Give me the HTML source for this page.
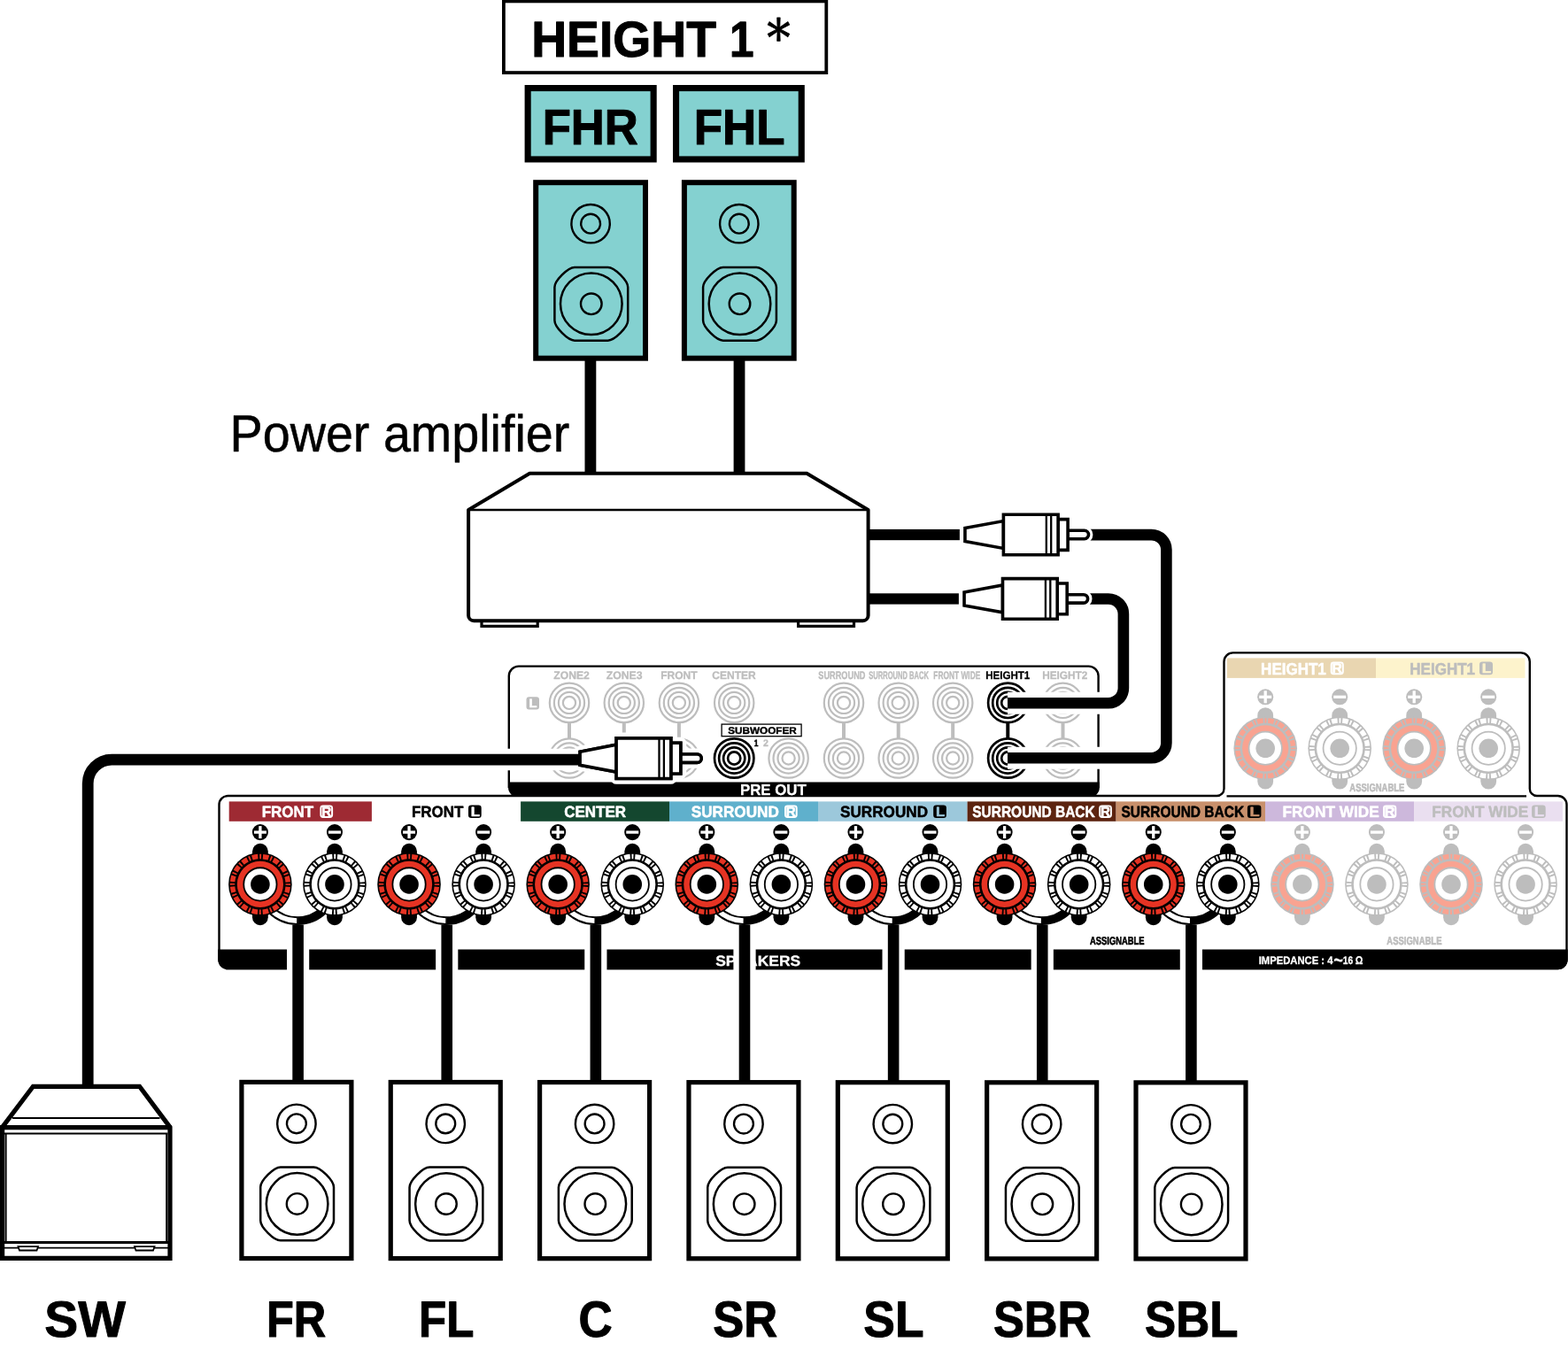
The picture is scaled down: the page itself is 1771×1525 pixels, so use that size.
<!DOCTYPE html>
<html lang="en"><head><meta charset="utf-8"><title>Speaker connection: HEIGHT 1 via power amplifier</title>
<style>
html,body{margin:0;padding:0;background:#fff;}
body{width:1771px;height:1525px;overflow:hidden;font-family:"Liberation Sans",sans-serif;}
svg{display:block;will-change:transform;}
</style></head><body>
<svg width="1771" height="1525" viewBox="0 0 1771 1525" text-rendering="geometricPrecision">
<rect x="0" y="0" width="1771" height="1525" fill="#fff"/>
<rect x="568.9" y="1.4" width="364.4" height="80.7" fill="#fff" stroke="#000" stroke-width="3.8"/>
<text transform="translate(600.17 64.30) scale(0.9723 1)" font-family="'Liberation Sans', sans-serif" font-weight="bold" font-size="56.87" fill="#000" stroke="#000" stroke-width="1.014" stroke-linejoin="round">HEIGHT</text>
<text transform="translate(823.91 64.30) scale(0.8697 1)" font-family="'Liberation Sans', sans-serif" font-weight="bold" font-size="56.87" fill="#000" stroke="#000" stroke-width="1.070" stroke-linejoin="round">1</text>
<text transform="translate(866.18 63.28) scale(0.5269 0.5802)" font-family="'DejaVu Serif', serif" font-weight="normal" font-size="100" fill="#000" stroke="#000" stroke-width="1.445" stroke-linejoin="round">*</text>
<rect x="596.15" y="99.55" width="142.00" height="80.40" fill="#84d1d0" stroke="#000" stroke-width="7.1"/>
<text transform="translate(612.65 162.50) scale(0.9324 1)" font-family="'Liberation Sans', sans-serif" font-weight="bold" font-size="56.44" fill="#000" stroke="#000" stroke-width="1.035" stroke-linejoin="round">FHR</text>
<rect x="763.55" y="99.55" width="141.70" height="80.40" fill="#84d1d0" stroke="#000" stroke-width="7.1"/>
<text transform="translate(783.73 162.50) scale(0.9373 1)" font-family="'Liberation Sans', sans-serif" font-weight="bold" font-size="56.44" fill="#000" stroke="#000" stroke-width="1.032" stroke-linejoin="round">FHL</text>
<rect x="660.5" y="405" width="12.8" height="131" fill="#000"/>
<rect x="828.6" y="405" width="12.8" height="131" fill="#000"/>
<rect x="605.20" y="206.20" width="123.80" height="198.50" fill="#84d1d0" stroke="#000" stroke-width="6.0"/>
<circle cx="667.10" cy="252.70" r="21.7" fill="none" stroke="#000" stroke-width="2.4"/>
<circle cx="667.10" cy="252.70" r="10.9" fill="none" stroke="#000" stroke-width="2.4"/>
<path d="M649.00,301.90 L686.60,301.90 C694.10,301.90 709.20,317.00 709.20,324.50 L709.20,362.10 C709.20,369.60 694.10,384.70 686.60,384.70 L649.00,384.70 C641.50,384.70 626.40,369.60 626.40,362.10 L626.40,324.50 C626.40,317.00 641.50,301.90 649.00,301.90 Z" fill="none" stroke="#000" stroke-width="2.5"/>
<circle cx="667.80" cy="343.30" r="34.8" fill="none" stroke="#000" stroke-width="2.5"/>
<circle cx="667.80" cy="343.30" r="11.8" fill="none" stroke="#000" stroke-width="2.4"/>
<rect x="772.90" y="206.20" width="123.80" height="198.50" fill="#84d1d0" stroke="#000" stroke-width="6.0"/>
<circle cx="834.80" cy="252.70" r="21.7" fill="none" stroke="#000" stroke-width="2.4"/>
<circle cx="834.80" cy="252.70" r="10.9" fill="none" stroke="#000" stroke-width="2.4"/>
<path d="M816.70,301.90 L854.30,301.90 C861.80,301.90 876.90,317.00 876.90,324.50 L876.90,362.10 C876.90,369.60 861.80,384.70 854.30,384.70 L816.70,384.70 C809.20,384.70 794.10,369.60 794.10,362.10 L794.10,324.50 C794.10,317.00 809.20,301.90 816.70,301.90 Z" fill="none" stroke="#000" stroke-width="2.5"/>
<circle cx="835.50" cy="343.30" r="34.8" fill="none" stroke="#000" stroke-width="2.5"/>
<circle cx="835.50" cy="343.30" r="11.8" fill="none" stroke="#000" stroke-width="2.4"/>
<text transform="translate(259.55 509.65) scale(0.9480 1)" font-family="'Liberation Sans', sans-serif" font-weight="normal" font-size="58.76" fill="#000" stroke="#000" stroke-width="0.513" stroke-linejoin="round">Power amplifier</text>
<path d="M544,701.2 h63.2 v6.2 h-63.2 Z M901.6,701.2 h62.9 v6.2 h-62.9 Z" fill="#fff" stroke="#000" stroke-width="3.2"/>
<path d="M529.1,576 L598.3,534.75 H911.2 L980.6,576 V695.2 a6 6 0 0 1 -6,6 H535.1 a6 6 0 0 1 -6,-6 Z" fill="#fff" stroke="#000" stroke-width="4" stroke-linejoin="round"/>
<path d="M529.1,576 H980.6" fill="none" stroke="#000" stroke-width="2.4"/>
<path d="M574.8,890 V763.6 a11 11 0 0 1 11,-11 H1229.6 a11 11 0 0 1 11,11 V890" fill="#fff" stroke="#000" stroke-width="2.4"/>
<path d="M574.05,883.4 H1241.85 V889.5 a10.8 10.8 0 0 1 -10.8,10.8 H584.85 a10.8 10.8 0 0 1 -10.8,-10.8 Z" fill="#000"/>
<rect x="641.00" y="813.9" width="4" height="22.600000000000023" fill="#bdbdbd"/>
<circle cx="643" cy="793.9" r="22.2" fill="#fff" stroke="#bdbdbd" stroke-width="2.2"/>
<circle cx="643" cy="793.9" r="17.1" fill="#fff" stroke="#bdbdbd" stroke-width="2.2"/>
<circle cx="643" cy="793.9" r="12.1" fill="#fff" stroke="#bdbdbd" stroke-width="2.2"/>
<circle cx="643" cy="793.9" r="7.1" fill="#fff" stroke="#bdbdbd" stroke-width="2.2"/>
<circle cx="643" cy="856.5" r="22.2" fill="#fff" stroke="#bdbdbd" stroke-width="2.2"/>
<circle cx="643" cy="856.5" r="17.1" fill="#fff" stroke="#bdbdbd" stroke-width="2.2"/>
<circle cx="643" cy="856.5" r="12.1" fill="#fff" stroke="#bdbdbd" stroke-width="2.2"/>
<circle cx="643" cy="856.5" r="7.1" fill="#fff" stroke="#bdbdbd" stroke-width="2.2"/>
<rect x="702.80" y="813.9" width="4" height="22.600000000000023" fill="#bdbdbd"/>
<circle cx="704.8" cy="793.9" r="22.2" fill="#fff" stroke="#bdbdbd" stroke-width="2.2"/>
<circle cx="704.8" cy="793.9" r="17.1" fill="#fff" stroke="#bdbdbd" stroke-width="2.2"/>
<circle cx="704.8" cy="793.9" r="12.1" fill="#fff" stroke="#bdbdbd" stroke-width="2.2"/>
<circle cx="704.8" cy="793.9" r="7.1" fill="#fff" stroke="#bdbdbd" stroke-width="2.2"/>
<circle cx="704.8" cy="856.5" r="22.2" fill="#fff" stroke="#bdbdbd" stroke-width="2.2"/>
<circle cx="704.8" cy="856.5" r="17.1" fill="#fff" stroke="#bdbdbd" stroke-width="2.2"/>
<circle cx="704.8" cy="856.5" r="12.1" fill="#fff" stroke="#bdbdbd" stroke-width="2.2"/>
<circle cx="704.8" cy="856.5" r="7.1" fill="#fff" stroke="#bdbdbd" stroke-width="2.2"/>
<rect x="764.90" y="813.9" width="4" height="22.600000000000023" fill="#bdbdbd"/>
<circle cx="766.9" cy="793.9" r="22.2" fill="#fff" stroke="#bdbdbd" stroke-width="2.2"/>
<circle cx="766.9" cy="793.9" r="17.1" fill="#fff" stroke="#bdbdbd" stroke-width="2.2"/>
<circle cx="766.9" cy="793.9" r="12.1" fill="#fff" stroke="#bdbdbd" stroke-width="2.2"/>
<circle cx="766.9" cy="793.9" r="7.1" fill="#fff" stroke="#bdbdbd" stroke-width="2.2"/>
<circle cx="766.9" cy="856.5" r="22.2" fill="#fff" stroke="#bdbdbd" stroke-width="2.2"/>
<circle cx="766.9" cy="856.5" r="17.1" fill="#fff" stroke="#bdbdbd" stroke-width="2.2"/>
<circle cx="766.9" cy="856.5" r="12.1" fill="#fff" stroke="#bdbdbd" stroke-width="2.2"/>
<circle cx="766.9" cy="856.5" r="7.1" fill="#fff" stroke="#bdbdbd" stroke-width="2.2"/>
<circle cx="829.2" cy="793.9" r="22.2" fill="#fff" stroke="#bdbdbd" stroke-width="2.2"/>
<circle cx="829.2" cy="793.9" r="17.1" fill="#fff" stroke="#bdbdbd" stroke-width="2.2"/>
<circle cx="829.2" cy="793.9" r="12.1" fill="#fff" stroke="#bdbdbd" stroke-width="2.2"/>
<circle cx="829.2" cy="793.9" r="7.1" fill="#fff" stroke="#bdbdbd" stroke-width="2.2"/>
<circle cx="829.2" cy="856.5" r="22.2" fill="#fff" stroke="#000" stroke-width="2.7"/>
<circle cx="829.2" cy="856.5" r="17.1" fill="#fff" stroke="#000" stroke-width="2.7"/>
<circle cx="829.2" cy="856.5" r="12.1" fill="#fff" stroke="#000" stroke-width="2.7"/>
<circle cx="829.2" cy="856.5" r="7.1" fill="#fff" stroke="#000" stroke-width="2.7"/>
<circle cx="890.6" cy="856.5" r="22.2" fill="#fff" stroke="#bdbdbd" stroke-width="2.2"/>
<circle cx="890.6" cy="856.5" r="17.1" fill="#fff" stroke="#bdbdbd" stroke-width="2.2"/>
<circle cx="890.6" cy="856.5" r="12.1" fill="#fff" stroke="#bdbdbd" stroke-width="2.2"/>
<circle cx="890.6" cy="856.5" r="7.1" fill="#fff" stroke="#bdbdbd" stroke-width="2.2"/>
<rect x="951.00" y="813.9" width="4" height="22.600000000000023" fill="#bdbdbd"/>
<circle cx="953" cy="793.9" r="22.2" fill="#fff" stroke="#bdbdbd" stroke-width="2.2"/>
<circle cx="953" cy="793.9" r="17.1" fill="#fff" stroke="#bdbdbd" stroke-width="2.2"/>
<circle cx="953" cy="793.9" r="12.1" fill="#fff" stroke="#bdbdbd" stroke-width="2.2"/>
<circle cx="953" cy="793.9" r="7.1" fill="#fff" stroke="#bdbdbd" stroke-width="2.2"/>
<circle cx="953" cy="856.5" r="22.2" fill="#fff" stroke="#bdbdbd" stroke-width="2.2"/>
<circle cx="953" cy="856.5" r="17.1" fill="#fff" stroke="#bdbdbd" stroke-width="2.2"/>
<circle cx="953" cy="856.5" r="12.1" fill="#fff" stroke="#bdbdbd" stroke-width="2.2"/>
<circle cx="953" cy="856.5" r="7.1" fill="#fff" stroke="#bdbdbd" stroke-width="2.2"/>
<rect x="1012.70" y="813.9" width="4" height="22.600000000000023" fill="#bdbdbd"/>
<circle cx="1014.7" cy="793.9" r="22.2" fill="#fff" stroke="#bdbdbd" stroke-width="2.2"/>
<circle cx="1014.7" cy="793.9" r="17.1" fill="#fff" stroke="#bdbdbd" stroke-width="2.2"/>
<circle cx="1014.7" cy="793.9" r="12.1" fill="#fff" stroke="#bdbdbd" stroke-width="2.2"/>
<circle cx="1014.7" cy="793.9" r="7.1" fill="#fff" stroke="#bdbdbd" stroke-width="2.2"/>
<circle cx="1014.7" cy="856.5" r="22.2" fill="#fff" stroke="#bdbdbd" stroke-width="2.2"/>
<circle cx="1014.7" cy="856.5" r="17.1" fill="#fff" stroke="#bdbdbd" stroke-width="2.2"/>
<circle cx="1014.7" cy="856.5" r="12.1" fill="#fff" stroke="#bdbdbd" stroke-width="2.2"/>
<circle cx="1014.7" cy="856.5" r="7.1" fill="#fff" stroke="#bdbdbd" stroke-width="2.2"/>
<rect x="1074.20" y="813.9" width="4" height="22.600000000000023" fill="#bdbdbd"/>
<circle cx="1076.2" cy="793.9" r="22.2" fill="#fff" stroke="#bdbdbd" stroke-width="2.2"/>
<circle cx="1076.2" cy="793.9" r="17.1" fill="#fff" stroke="#bdbdbd" stroke-width="2.2"/>
<circle cx="1076.2" cy="793.9" r="12.1" fill="#fff" stroke="#bdbdbd" stroke-width="2.2"/>
<circle cx="1076.2" cy="793.9" r="7.1" fill="#fff" stroke="#bdbdbd" stroke-width="2.2"/>
<circle cx="1076.2" cy="856.5" r="22.2" fill="#fff" stroke="#bdbdbd" stroke-width="2.2"/>
<circle cx="1076.2" cy="856.5" r="17.1" fill="#fff" stroke="#bdbdbd" stroke-width="2.2"/>
<circle cx="1076.2" cy="856.5" r="12.1" fill="#fff" stroke="#bdbdbd" stroke-width="2.2"/>
<circle cx="1076.2" cy="856.5" r="7.1" fill="#fff" stroke="#bdbdbd" stroke-width="2.2"/>
<rect x="1136.30" y="813.9" width="4" height="22.600000000000023" fill="#000"/>
<circle cx="1138.3" cy="793.9" r="22.2" fill="#fff" stroke="#000" stroke-width="2.7"/>
<circle cx="1138.3" cy="793.9" r="17.1" fill="#fff" stroke="#000" stroke-width="2.7"/>
<circle cx="1138.3" cy="793.9" r="12.1" fill="#fff" stroke="#000" stroke-width="2.7"/>
<circle cx="1138.3" cy="793.9" r="7.1" fill="#fff" stroke="#000" stroke-width="2.7"/>
<circle cx="1138.3" cy="856.5" r="22.2" fill="#fff" stroke="#000" stroke-width="2.7"/>
<circle cx="1138.3" cy="856.5" r="17.1" fill="#fff" stroke="#000" stroke-width="2.7"/>
<circle cx="1138.3" cy="856.5" r="12.1" fill="#fff" stroke="#000" stroke-width="2.7"/>
<circle cx="1138.3" cy="856.5" r="7.1" fill="#fff" stroke="#000" stroke-width="2.7"/>
<rect x="1198.50" y="813.9" width="4" height="22.600000000000023" fill="#bdbdbd"/>
<circle cx="1200.5" cy="793.9" r="22.2" fill="#fff" stroke="#bdbdbd" stroke-width="2.2"/>
<circle cx="1200.5" cy="793.9" r="17.1" fill="#fff" stroke="#bdbdbd" stroke-width="2.2"/>
<circle cx="1200.5" cy="793.9" r="12.1" fill="#fff" stroke="#bdbdbd" stroke-width="2.2"/>
<circle cx="1200.5" cy="793.9" r="7.1" fill="#fff" stroke="#bdbdbd" stroke-width="2.2"/>
<circle cx="1200.5" cy="856.5" r="22.2" fill="#fff" stroke="#bdbdbd" stroke-width="2.2"/>
<circle cx="1200.5" cy="856.5" r="17.1" fill="#fff" stroke="#bdbdbd" stroke-width="2.2"/>
<circle cx="1200.5" cy="856.5" r="12.1" fill="#fff" stroke="#bdbdbd" stroke-width="2.2"/>
<circle cx="1200.5" cy="856.5" r="7.1" fill="#fff" stroke="#bdbdbd" stroke-width="2.2"/>
<text transform="translate(625.28 766.95) scale(0.9842 1)" font-family="'Liberation Sans', sans-serif" font-weight="bold" font-size="12.36" fill="#bdbdbd" stroke="#bdbdbd" stroke-width="0.302" stroke-linejoin="round">ZONE2</text>
<text transform="translate(684.68 766.95) scale(0.9926 1)" font-family="'Liberation Sans', sans-serif" font-weight="bold" font-size="12.36" fill="#bdbdbd" stroke="#bdbdbd" stroke-width="0.301" stroke-linejoin="round">ZONE3</text>
<text transform="translate(746.14 766.95) scale(0.9759 1)" font-family="'Liberation Sans', sans-serif" font-weight="bold" font-size="12.36" fill="#bdbdbd" stroke="#bdbdbd" stroke-width="0.304" stroke-linejoin="round">FRONT</text>
<text transform="translate(804.27 766.95) scale(0.9726 1)" font-family="'Liberation Sans', sans-serif" font-weight="bold" font-size="12.36" fill="#bdbdbd" stroke="#bdbdbd" stroke-width="0.304" stroke-linejoin="round">CENTER</text>
<text transform="translate(924.27 766.95) scale(0.7443 1)" font-family="'Liberation Sans', sans-serif" font-weight="bold" font-size="12.36" fill="#bdbdbd" stroke="#bdbdbd" stroke-width="0.344" stroke-linejoin="round">SURROUND</text>
<text transform="translate(981.22 766.95) scale(0.6131 1)" font-family="'Liberation Sans', sans-serif" font-weight="bold" font-size="12.36" fill="#bdbdbd" stroke="#bdbdbd" stroke-width="0.372" stroke-linejoin="round">SURROUND BACK</text>
<text transform="translate(1054.29 766.95) scale(0.6769 1)" font-family="'Liberation Sans', sans-serif" font-weight="bold" font-size="12.36" fill="#bdbdbd" stroke="#bdbdbd" stroke-width="0.358" stroke-linejoin="round">FRONT WIDE</text>
<text transform="translate(1113.27 766.95) scale(0.9334 1)" font-family="'Liberation Sans', sans-serif" font-weight="bold" font-size="12.36" fill="#000" stroke="#000" stroke-width="0.310" stroke-linejoin="round">HEIGHT1</text>
<text transform="translate(1177.15 766.95) scale(0.9553 1)" font-family="'Liberation Sans', sans-serif" font-weight="bold" font-size="12.36" fill="#bdbdbd" stroke="#bdbdbd" stroke-width="0.307" stroke-linejoin="round">HEIGHT2</text>
<rect x="594.5" y="787.3" width="14.5" height="14.2" rx="3" fill="#bdbdbd"/>
<text transform="translate(597.61 798.90) scale(1.0936 1)" font-family="'Liberation Sans', sans-serif" font-weight="bold" font-size="13.38" fill="#fff" stroke="#fff" stroke-width="0.573" stroke-linejoin="round">L</text>
<rect x="815.1" y="818.1" width="90" height="13.6" fill="#fff" stroke="#000" stroke-width="1.3"/>
<text transform="translate(822.25 829.10) scale(1.0618 1)" font-family="'Liberation Sans', sans-serif" font-weight="bold" font-size="11.05" fill="#000" stroke="#000" stroke-width="0.388" stroke-linejoin="round">SUBWOOFER</text>
<text transform="translate(851.73 843.05) scale(0.7899 1)" font-family="'Liberation Sans', sans-serif" font-weight="bold" font-size="10.62" fill="#000" stroke="#000" stroke-width="0.559" stroke-linejoin="round">1</text>
<text transform="translate(861.98 843.15) scale(0.9740 1)" font-family="'Liberation Sans', sans-serif" font-weight="bold" font-size="10.91" fill="#bdbdbd" stroke="#bdbdbd" stroke-width="0.304" stroke-linejoin="round">2</text>
<path d="M257.5,899 H1374.5 a8 8 0 0 0 8,-8 V747.4 a10 10 0 0 1 10,-10 H1717.8 a10 10 0 0 1 10,10 V891 a8 8 0 0 0 8,8 H1759.5 a10 10 0 0 1 10,10 V1084 a10 10 0 0 1 -10,10 H257.5 a10 10 0 0 1 -10,-10 V909 a10 10 0 0 1 10,-10 Z" fill="#fff" stroke="#000" stroke-width="2.4"/>
<path d="M1385.5,899.3 H1724" stroke="#000" stroke-width="2.3" fill="none"/>
<text transform="translate(835.91 898.15) scale(0.9723 1)" font-family="'Liberation Sans', sans-serif" font-weight="bold" font-size="17.31" fill="#fff" stroke="#fff" stroke-width="0.304" stroke-linejoin="round">PRE OUT</text>
<path d="M246.3,1072.6 H1770.7 V1084 a11.2 11.2 0 0 1 -11.2,11.2 H257.5 a11.2 11.2 0 0 1 -11.2,-11.2 Z" fill="#000"/>
<text transform="translate(808.23 1090.85) scale(1.0606 1)" font-family="'Liberation Sans', sans-serif" font-weight="bold" font-size="16.44" fill="#fff" stroke="#fff" stroke-width="0.291" stroke-linejoin="round">SPEAKERS</text>
<text transform="translate(1421.69 1089.15) scale(0.9203 1)" font-family="'Liberation Sans', sans-serif" font-weight="bold" font-size="12.22" fill="#fff" stroke="#fff" stroke-width="0.312" stroke-linejoin="round">IMPEDANCE : 4</text>
<text transform="translate(1506.16 1093.41) scale(0.1852 0.2540)" font-family="'Liberation Sans', sans-serif" font-weight="bold" font-size="100" fill="#fff">~</text>
<text transform="translate(1516.81 1089.15) scale(0.8326 1)" font-family="'Liberation Sans', sans-serif" font-weight="bold" font-size="12.22" fill="#fff" stroke="#fff" stroke-width="0.327" stroke-linejoin="round">16</text>
<text transform="translate(1530.72 1089.15) scale(0.8630 1)" font-family="'Liberation Sans', sans-serif" font-weight="bold" font-size="12.51" fill="#fff" stroke="#fff" stroke-width="0.322" stroke-linejoin="round">Ω</text>
<text transform="translate(1231.02 1066.55) scale(0.7425 1)" font-family="'Liberation Sans', sans-serif" font-weight="bold" font-size="12.65" fill="#000" stroke="#000" stroke-width="0.574" stroke-linejoin="round">ASSIGNABLE</text>
<text transform="translate(1566.31 1066.75) scale(0.7498 1)" font-family="'Liberation Sans', sans-serif" font-weight="bold" font-size="12.65" fill="#bdbdbd" stroke="#bdbdbd" stroke-width="0.572" stroke-linejoin="round">ASSIGNABLE</text>
<text transform="translate(1524.31 893.75) scale(0.7485 1)" font-family="'Liberation Sans', sans-serif" font-weight="bold" font-size="12.65" fill="#bdbdbd" stroke="#bdbdbd" stroke-width="0.572" stroke-linejoin="round">ASSIGNABLE</text>
<rect x="258.7" y="905.4" width="161.20" height="22.4" fill="#9e2a33"/>
<text transform="translate(295.70 922.85) scale(0.9579 1)" font-family="'Liberation Sans', sans-serif" font-weight="bold" font-size="17.75" fill="#fff" stroke="#fff" stroke-width="0.511" stroke-linejoin="round">FRONT</text>
<rect x="362.40" y="910.50" width="12.70" height="12.50" rx="2.4" fill="none" stroke="#fff" stroke-width="2.0"/>
<text transform="translate(363.23 922.05) scale(0.9938 1)" font-family="'Liberation Sans', sans-serif" font-weight="bold" font-size="15.27" fill="#fff" stroke="#fff" stroke-width="0.502" stroke-linejoin="round">R</text>
<text transform="translate(464.90 922.85) scale(0.9579 1)" font-family="'Liberation Sans', sans-serif" font-weight="bold" font-size="17.75" fill="#000" stroke="#000" stroke-width="0.511" stroke-linejoin="round">FRONT</text>
<rect x="529.00" y="909.50" width="14.70" height="14.50" rx="3.2" fill="#000"/>
<text transform="translate(531.72 921.85) scale(1.1310 1)" font-family="'Liberation Sans', sans-serif" font-weight="bold" font-size="14.84" fill="#fff" stroke="#fff" stroke-width="0.469" stroke-linejoin="round">L</text>
<rect x="588.1" y="905.4" width="167.90" height="22.4" fill="#14472f"/>
<text transform="translate(637.17 922.85) scale(0.9573 1)" font-family="'Liberation Sans', sans-serif" font-weight="bold" font-size="17.75" fill="#fff" stroke="#fff" stroke-width="0.511" stroke-linejoin="round">CENTER</text>
<rect x="756" y="905.4" width="168.00" height="22.4" fill="#5fb0cc"/>
<text transform="translate(780.74 922.85) scale(0.9660 1)" font-family="'Liberation Sans', sans-serif" font-weight="bold" font-size="17.75" fill="#fff" stroke="#fff" stroke-width="0.509" stroke-linejoin="round">SURROUND</text>
<rect x="887.00" y="910.50" width="12.70" height="12.50" rx="2.4" fill="none" stroke="#fff" stroke-width="2.0"/>
<text transform="translate(887.83 922.05) scale(0.9938 1)" font-family="'Liberation Sans', sans-serif" font-weight="bold" font-size="15.27" fill="#fff" stroke="#fff" stroke-width="0.502" stroke-linejoin="round">R</text>
<rect x="924" y="905.4" width="168.60" height="22.4" fill="#9cc8db"/>
<text transform="translate(949.04 922.85) scale(0.9660 1)" font-family="'Liberation Sans', sans-serif" font-weight="bold" font-size="17.75" fill="#000" stroke="#000" stroke-width="0.509" stroke-linejoin="round">SURROUND</text>
<rect x="1054.20" y="909.50" width="14.70" height="14.50" rx="3.2" fill="#000"/>
<text transform="translate(1056.92 921.85) scale(1.1310 1)" font-family="'Liberation Sans', sans-serif" font-weight="bold" font-size="14.84" fill="#9cc8db" stroke="#9cc8db" stroke-width="0.469" stroke-linejoin="round">L</text>
<rect x="1092.6" y="905.4" width="168.00" height="22.4" fill="#5c2410"/>
<text transform="translate(1098.29 922.85) scale(0.8714 1)" font-family="'Liberation Sans', sans-serif" font-weight="bold" font-size="17.75" fill="#fff" stroke="#fff" stroke-width="0.534" stroke-linejoin="round">SURROUND BACK</text>
<rect x="1242.20" y="910.50" width="12.70" height="12.50" rx="2.4" fill="none" stroke="#fff" stroke-width="2.0"/>
<text transform="translate(1243.03 922.05) scale(0.9938 1)" font-family="'Liberation Sans', sans-serif" font-weight="bold" font-size="15.27" fill="#fff" stroke="#fff" stroke-width="0.502" stroke-linejoin="round">R</text>
<rect x="1260.6" y="905.4" width="168.40" height="22.4" fill="#c8906c"/>
<text transform="translate(1266.49 922.85) scale(0.8733 1)" font-family="'Liberation Sans', sans-serif" font-weight="bold" font-size="17.75" fill="#000" stroke="#000" stroke-width="0.534" stroke-linejoin="round">SURROUND BACK</text>
<rect x="1408.90" y="909.50" width="15.50" height="14.50" rx="3.2" fill="#000"/>
<text transform="translate(1411.51 921.85) scale(1.2363 1)" font-family="'Liberation Sans', sans-serif" font-weight="bold" font-size="14.84" fill="#c8906c" stroke="#c8906c" stroke-width="0.447" stroke-linejoin="round">L</text>
<rect x="1429" y="905.4" width="168.00" height="22.4" fill="#cdb8dc"/>
<text transform="translate(1448.59 922.85) scale(0.9713 1)" font-family="'Liberation Sans', sans-serif" font-weight="bold" font-size="17.75" fill="#fff" stroke="#fff" stroke-width="0.507" stroke-linejoin="round">FRONT WIDE</text>
<rect x="1563.00" y="910.50" width="13.30" height="12.50" rx="2.4" fill="none" stroke="#fff" stroke-width="2.0"/>
<text transform="translate(1563.76 922.05) scale(1.0559 1)" font-family="'Liberation Sans', sans-serif" font-weight="bold" font-size="15.27" fill="#fff" stroke="#fff" stroke-width="0.486" stroke-linejoin="round">R</text>
<rect x="1597" y="905.4" width="168.00" height="22.4" fill="#eadff0"/>
<text transform="translate(1617.29 922.85) scale(0.9686 1)" font-family="'Liberation Sans', sans-serif" font-weight="bold" font-size="17.75" fill="#bdbdbd" stroke="#bdbdbd" stroke-width="0.508" stroke-linejoin="round">FRONT WIDE</text>
<rect x="1730.10" y="909.50" width="15.60" height="14.50" rx="3.2" fill="#bdbdbd"/>
<text transform="translate(1732.70 921.85) scale(1.2494 1)" font-family="'Liberation Sans', sans-serif" font-weight="bold" font-size="14.84" fill="#eadff0" stroke="#eadff0" stroke-width="0.445" stroke-linejoin="round">L</text>
<rect x="1386" y="743.4" width="168" height="22.5" fill="#e9d6b1"/>
<rect x="1554" y="743.4" width="168.5" height="22.5" fill="#fdf3cc"/>
<text transform="translate(1424.10 761.55) scale(0.9068 1)" font-family="'Liberation Sans', sans-serif" font-weight="bold" font-size="18.76" fill="#fff" stroke="#fff" stroke-width="0.524" stroke-linejoin="round">HEIGHT1</text>
<rect x="1503.70" y="748.60" width="13.10" height="12.60" rx="2.4" fill="none" stroke="#fff" stroke-width="2.0"/>
<text transform="translate(1504.48 760.25) scale(1.0254 1)" font-family="'Liberation Sans', sans-serif" font-weight="bold" font-size="15.42" fill="#fff" stroke="#fff" stroke-width="0.494" stroke-linejoin="round">R</text>
<text transform="translate(1592.30 761.55) scale(0.9081 1)" font-family="'Liberation Sans', sans-serif" font-weight="bold" font-size="18.76" fill="#bdbdbd" stroke="#bdbdbd" stroke-width="0.524" stroke-linejoin="round">HEIGHT1</text>
<rect x="1671.00" y="747.60" width="15.00" height="14.60" rx="3.2" fill="#bdbdbd"/>
<text transform="translate(1673.68 760.05) scale(1.1591 1)" font-family="'Liberation Sans', sans-serif" font-weight="bold" font-size="14.98" fill="#fdf3cc" stroke="#fdf3cc" stroke-width="0.463" stroke-linejoin="round">L</text>
<path d="M377.96999999999997,998.9 A41.77 41.2 0 0 1 336.20000000000005,1040.1" fill="none" stroke="#000" stroke-width="9.6"/>
<path d="M293.9,998.9 A42.30 41.2 0 0 0 336.70000000000005,1040.1" fill="none" stroke="#000" stroke-width="9.6"/>
<path d="M293.9,998.9 A42.30 41.2 0 0 0 335.20000000000005,1040.1" fill="none" stroke="#fff" stroke-width="5.6"/>
<path d="M546.1099999999999,998.9 A41.78 41.2 0 0 1 504.33000000000004,1040.1" fill="none" stroke="#000" stroke-width="9.6"/>
<path d="M462.03999999999996,998.9 A42.29 41.2 0 0 0 504.83000000000004,1040.1" fill="none" stroke="#000" stroke-width="9.6"/>
<path d="M462.03999999999996,998.9 A42.29 41.2 0 0 0 503.33000000000004,1040.1" fill="none" stroke="#fff" stroke-width="5.6"/>
<path d="M714.25,998.9 A41.79 41.2 0 0 1 672.46,1040.1" fill="none" stroke="#000" stroke-width="9.6"/>
<path d="M630.18,998.9 A42.28 41.2 0 0 0 672.96,1040.1" fill="none" stroke="#000" stroke-width="9.6"/>
<path d="M630.18,998.9 A42.28 41.2 0 0 0 671.46,1040.1" fill="none" stroke="#fff" stroke-width="5.6"/>
<path d="M882.39,998.9 A41.80 41.2 0 0 1 840.59,1040.1" fill="none" stroke="#000" stroke-width="9.6"/>
<path d="M798.3199999999999,998.9 A42.27 41.2 0 0 0 841.09,1040.1" fill="none" stroke="#000" stroke-width="9.6"/>
<path d="M798.3199999999999,998.9 A42.27 41.2 0 0 0 839.59,1040.1" fill="none" stroke="#fff" stroke-width="5.6"/>
<path d="M1050.5299999999997,998.9 A41.81 41.2 0 0 1 1008.72,1040.1" fill="none" stroke="#000" stroke-width="9.6"/>
<path d="M966.4599999999999,998.9 A42.26 41.2 0 0 0 1009.22,1040.1" fill="none" stroke="#000" stroke-width="9.6"/>
<path d="M966.4599999999999,998.9 A42.26 41.2 0 0 0 1007.72,1040.1" fill="none" stroke="#fff" stroke-width="5.6"/>
<path d="M1218.67,998.9 A41.82 41.2 0 0 1 1176.85,1040.1" fill="none" stroke="#000" stroke-width="9.6"/>
<path d="M1134.6,998.9 A42.25 41.2 0 0 0 1177.35,1040.1" fill="none" stroke="#000" stroke-width="9.6"/>
<path d="M1134.6,998.9 A42.25 41.2 0 0 0 1175.85,1040.1" fill="none" stroke="#fff" stroke-width="5.6"/>
<path d="M1386.81,998.9 A41.83 41.2 0 0 1 1344.98,1040.1" fill="none" stroke="#000" stroke-width="9.6"/>
<path d="M1302.7399999999998,998.9 A42.24 41.2 0 0 0 1345.48,1040.1" fill="none" stroke="#000" stroke-width="9.6"/>
<path d="M1302.7399999999998,998.9 A42.24 41.2 0 0 0 1343.98,1040.1" fill="none" stroke="#fff" stroke-width="5.6"/>
<circle cx="293.90" cy="940.1" r="9.05" fill="#000"/>
<rect x="286.90" y="938.45" width="14" height="3.3" fill="#fff"/>
<rect x="292.25" y="933.10" width="3.3" height="14" fill="#fff"/>
<rect x="285.00" y="952.80" width="17.8" height="92.4" rx="8.9" fill="#000"/>
<circle cx="293.90" cy="998.9" r="35.8" fill="#000"/>
<circle cx="293.90" cy="998.9" r="31.4" fill="none" stroke="#e63323" stroke-width="5.5" stroke-dasharray="1.900 1.9 6.631 1.9" stroke-dashoffset="0.950"/>
<circle cx="293.90" cy="998.9" r="26.1" fill="#e63323"/>
<circle cx="293.90" cy="998.9" r="18.65" fill="#fff" stroke="#000" stroke-width="1.8"/>
<circle cx="293.90" cy="998.9" r="10.8" fill="#000"/>
<circle cx="377.97" cy="940.1" r="9.05" fill="#000"/>
<rect x="370.97" y="938.45" width="14" height="3.3" fill="#fff"/>
<rect x="369.07" y="952.80" width="17.8" height="92.4" rx="8.9" fill="#000"/>
<circle cx="377.97" cy="998.9" r="35.8" fill="#000"/>
<circle cx="377.97" cy="998.9" r="31.4" fill="none" stroke="#fff" stroke-width="5.5" stroke-dasharray="1.900 1.9 6.631 1.9" stroke-dashoffset="0.950"/>
<circle cx="377.97" cy="998.9" r="26.1" fill="#fff"/>
<circle cx="377.97" cy="998.9" r="18.65" fill="#fff" stroke="#000" stroke-width="1.8"/>
<circle cx="377.97" cy="998.9" r="10.8" fill="#000"/>
<circle cx="462.04" cy="940.1" r="9.05" fill="#000"/>
<rect x="455.04" y="938.45" width="14" height="3.3" fill="#fff"/>
<rect x="460.39" y="933.10" width="3.3" height="14" fill="#fff"/>
<rect x="453.14" y="952.80" width="17.8" height="92.4" rx="8.9" fill="#000"/>
<circle cx="462.04" cy="998.9" r="35.8" fill="#000"/>
<circle cx="462.04" cy="998.9" r="31.4" fill="none" stroke="#e63323" stroke-width="5.5" stroke-dasharray="1.900 1.9 6.631 1.9" stroke-dashoffset="0.950"/>
<circle cx="462.04" cy="998.9" r="26.1" fill="#e63323"/>
<circle cx="462.04" cy="998.9" r="18.65" fill="#fff" stroke="#000" stroke-width="1.8"/>
<circle cx="462.04" cy="998.9" r="10.8" fill="#000"/>
<circle cx="546.11" cy="940.1" r="9.05" fill="#000"/>
<rect x="539.11" y="938.45" width="14" height="3.3" fill="#fff"/>
<rect x="537.21" y="952.80" width="17.8" height="92.4" rx="8.9" fill="#000"/>
<circle cx="546.11" cy="998.9" r="35.8" fill="#000"/>
<circle cx="546.11" cy="998.9" r="31.4" fill="none" stroke="#fff" stroke-width="5.5" stroke-dasharray="1.900 1.9 6.631 1.9" stroke-dashoffset="0.950"/>
<circle cx="546.11" cy="998.9" r="26.1" fill="#fff"/>
<circle cx="546.11" cy="998.9" r="18.65" fill="#fff" stroke="#000" stroke-width="1.8"/>
<circle cx="546.11" cy="998.9" r="10.8" fill="#000"/>
<circle cx="630.18" cy="940.1" r="9.05" fill="#000"/>
<rect x="623.18" y="938.45" width="14" height="3.3" fill="#fff"/>
<rect x="628.53" y="933.10" width="3.3" height="14" fill="#fff"/>
<rect x="621.28" y="952.80" width="17.8" height="92.4" rx="8.9" fill="#000"/>
<circle cx="630.18" cy="998.9" r="35.8" fill="#000"/>
<circle cx="630.18" cy="998.9" r="31.4" fill="none" stroke="#e63323" stroke-width="5.5" stroke-dasharray="1.900 1.9 6.631 1.9" stroke-dashoffset="0.950"/>
<circle cx="630.18" cy="998.9" r="26.1" fill="#e63323"/>
<circle cx="630.18" cy="998.9" r="18.65" fill="#fff" stroke="#000" stroke-width="1.8"/>
<circle cx="630.18" cy="998.9" r="10.8" fill="#000"/>
<circle cx="714.25" cy="940.1" r="9.05" fill="#000"/>
<rect x="707.25" y="938.45" width="14" height="3.3" fill="#fff"/>
<rect x="705.35" y="952.80" width="17.8" height="92.4" rx="8.9" fill="#000"/>
<circle cx="714.25" cy="998.9" r="35.8" fill="#000"/>
<circle cx="714.25" cy="998.9" r="31.4" fill="none" stroke="#fff" stroke-width="5.5" stroke-dasharray="1.900 1.9 6.631 1.9" stroke-dashoffset="0.950"/>
<circle cx="714.25" cy="998.9" r="26.1" fill="#fff"/>
<circle cx="714.25" cy="998.9" r="18.65" fill="#fff" stroke="#000" stroke-width="1.8"/>
<circle cx="714.25" cy="998.9" r="10.8" fill="#000"/>
<circle cx="798.32" cy="940.1" r="9.05" fill="#000"/>
<rect x="791.32" y="938.45" width="14" height="3.3" fill="#fff"/>
<rect x="796.67" y="933.10" width="3.3" height="14" fill="#fff"/>
<rect x="789.42" y="952.80" width="17.8" height="92.4" rx="8.9" fill="#000"/>
<circle cx="798.32" cy="998.9" r="35.8" fill="#000"/>
<circle cx="798.32" cy="998.9" r="31.4" fill="none" stroke="#e63323" stroke-width="5.5" stroke-dasharray="1.900 1.9 6.631 1.9" stroke-dashoffset="0.950"/>
<circle cx="798.32" cy="998.9" r="26.1" fill="#e63323"/>
<circle cx="798.32" cy="998.9" r="18.65" fill="#fff" stroke="#000" stroke-width="1.8"/>
<circle cx="798.32" cy="998.9" r="10.8" fill="#000"/>
<circle cx="882.39" cy="940.1" r="9.05" fill="#000"/>
<rect x="875.39" y="938.45" width="14" height="3.3" fill="#fff"/>
<rect x="873.49" y="952.80" width="17.8" height="92.4" rx="8.9" fill="#000"/>
<circle cx="882.39" cy="998.9" r="35.8" fill="#000"/>
<circle cx="882.39" cy="998.9" r="31.4" fill="none" stroke="#fff" stroke-width="5.5" stroke-dasharray="1.900 1.9 6.631 1.9" stroke-dashoffset="0.950"/>
<circle cx="882.39" cy="998.9" r="26.1" fill="#fff"/>
<circle cx="882.39" cy="998.9" r="18.65" fill="#fff" stroke="#000" stroke-width="1.8"/>
<circle cx="882.39" cy="998.9" r="10.8" fill="#000"/>
<circle cx="966.46" cy="940.1" r="9.05" fill="#000"/>
<rect x="959.46" y="938.45" width="14" height="3.3" fill="#fff"/>
<rect x="964.81" y="933.10" width="3.3" height="14" fill="#fff"/>
<rect x="957.56" y="952.80" width="17.8" height="92.4" rx="8.9" fill="#000"/>
<circle cx="966.46" cy="998.9" r="35.8" fill="#000"/>
<circle cx="966.46" cy="998.9" r="31.4" fill="none" stroke="#e63323" stroke-width="5.5" stroke-dasharray="1.900 1.9 6.631 1.9" stroke-dashoffset="0.950"/>
<circle cx="966.46" cy="998.9" r="26.1" fill="#e63323"/>
<circle cx="966.46" cy="998.9" r="18.65" fill="#fff" stroke="#000" stroke-width="1.8"/>
<circle cx="966.46" cy="998.9" r="10.8" fill="#000"/>
<circle cx="1050.53" cy="940.1" r="9.05" fill="#000"/>
<rect x="1043.53" y="938.45" width="14" height="3.3" fill="#fff"/>
<rect x="1041.63" y="952.80" width="17.8" height="92.4" rx="8.9" fill="#000"/>
<circle cx="1050.53" cy="998.9" r="35.8" fill="#000"/>
<circle cx="1050.53" cy="998.9" r="31.4" fill="none" stroke="#fff" stroke-width="5.5" stroke-dasharray="1.900 1.9 6.631 1.9" stroke-dashoffset="0.950"/>
<circle cx="1050.53" cy="998.9" r="26.1" fill="#fff"/>
<circle cx="1050.53" cy="998.9" r="18.65" fill="#fff" stroke="#000" stroke-width="1.8"/>
<circle cx="1050.53" cy="998.9" r="10.8" fill="#000"/>
<circle cx="1134.60" cy="940.1" r="9.05" fill="#000"/>
<rect x="1127.60" y="938.45" width="14" height="3.3" fill="#fff"/>
<rect x="1132.95" y="933.10" width="3.3" height="14" fill="#fff"/>
<rect x="1125.70" y="952.80" width="17.8" height="92.4" rx="8.9" fill="#000"/>
<circle cx="1134.60" cy="998.9" r="35.8" fill="#000"/>
<circle cx="1134.60" cy="998.9" r="31.4" fill="none" stroke="#e63323" stroke-width="5.5" stroke-dasharray="1.900 1.9 6.631 1.9" stroke-dashoffset="0.950"/>
<circle cx="1134.60" cy="998.9" r="26.1" fill="#e63323"/>
<circle cx="1134.60" cy="998.9" r="18.65" fill="#fff" stroke="#000" stroke-width="1.8"/>
<circle cx="1134.60" cy="998.9" r="10.8" fill="#000"/>
<circle cx="1218.67" cy="940.1" r="9.05" fill="#000"/>
<rect x="1211.67" y="938.45" width="14" height="3.3" fill="#fff"/>
<rect x="1209.77" y="952.80" width="17.8" height="92.4" rx="8.9" fill="#000"/>
<circle cx="1218.67" cy="998.9" r="35.8" fill="#000"/>
<circle cx="1218.67" cy="998.9" r="31.4" fill="none" stroke="#fff" stroke-width="5.5" stroke-dasharray="1.900 1.9 6.631 1.9" stroke-dashoffset="0.950"/>
<circle cx="1218.67" cy="998.9" r="26.1" fill="#fff"/>
<circle cx="1218.67" cy="998.9" r="18.65" fill="#fff" stroke="#000" stroke-width="1.8"/>
<circle cx="1218.67" cy="998.9" r="10.8" fill="#000"/>
<circle cx="1302.74" cy="940.1" r="9.05" fill="#000"/>
<rect x="1295.74" y="938.45" width="14" height="3.3" fill="#fff"/>
<rect x="1301.09" y="933.10" width="3.3" height="14" fill="#fff"/>
<rect x="1293.84" y="952.80" width="17.8" height="92.4" rx="8.9" fill="#000"/>
<circle cx="1302.74" cy="998.9" r="35.8" fill="#000"/>
<circle cx="1302.74" cy="998.9" r="31.4" fill="none" stroke="#e63323" stroke-width="5.5" stroke-dasharray="1.900 1.9 6.631 1.9" stroke-dashoffset="0.950"/>
<circle cx="1302.74" cy="998.9" r="26.1" fill="#e63323"/>
<circle cx="1302.74" cy="998.9" r="18.65" fill="#fff" stroke="#000" stroke-width="1.8"/>
<circle cx="1302.74" cy="998.9" r="10.8" fill="#000"/>
<circle cx="1386.81" cy="940.1" r="9.05" fill="#000"/>
<rect x="1379.81" y="938.45" width="14" height="3.3" fill="#fff"/>
<rect x="1377.91" y="952.80" width="17.8" height="92.4" rx="8.9" fill="#000"/>
<circle cx="1386.81" cy="998.9" r="35.8" fill="#000"/>
<circle cx="1386.81" cy="998.9" r="31.4" fill="none" stroke="#fff" stroke-width="5.5" stroke-dasharray="1.900 1.9 6.631 1.9" stroke-dashoffset="0.950"/>
<circle cx="1386.81" cy="998.9" r="26.1" fill="#fff"/>
<circle cx="1386.81" cy="998.9" r="18.65" fill="#fff" stroke="#000" stroke-width="1.8"/>
<circle cx="1386.81" cy="998.9" r="10.8" fill="#000"/>
<circle cx="1470.88" cy="940.1" r="9.05" fill="#bdbdbd"/>
<rect x="1463.88" y="938.45" width="14" height="3.3" fill="#fff"/>
<rect x="1469.23" y="933.10" width="3.3" height="14" fill="#fff"/>
<rect x="1461.98" y="952.80" width="17.8" height="92.4" rx="8.9" fill="#bdbdbd"/>
<circle cx="1470.88" cy="998.9" r="35.8" fill="#bdbdbd"/>
<circle cx="1470.88" cy="998.9" r="31.4" fill="none" stroke="#f9a391" stroke-width="5.5" stroke-dasharray="1.900 1.9 6.631 1.9" stroke-dashoffset="0.950"/>
<circle cx="1470.88" cy="998.9" r="26.1" fill="#f9a391"/>
<circle cx="1470.88" cy="998.9" r="18.65" fill="#fff" stroke="#bdbdbd" stroke-width="1.8"/>
<circle cx="1470.88" cy="998.9" r="10.8" fill="#bdbdbd"/>
<circle cx="1554.95" cy="940.1" r="9.05" fill="#bdbdbd"/>
<rect x="1547.95" y="938.45" width="14" height="3.3" fill="#fff"/>
<rect x="1546.05" y="952.80" width="17.8" height="92.4" rx="8.9" fill="#bdbdbd"/>
<circle cx="1554.95" cy="998.9" r="35.8" fill="#bdbdbd"/>
<circle cx="1554.95" cy="998.9" r="31.4" fill="none" stroke="#fff" stroke-width="5.5" stroke-dasharray="1.900 1.9 6.631 1.9" stroke-dashoffset="0.950"/>
<circle cx="1554.95" cy="998.9" r="26.1" fill="#fff"/>
<circle cx="1554.95" cy="998.9" r="18.65" fill="#fff" stroke="#bdbdbd" stroke-width="1.8"/>
<circle cx="1554.95" cy="998.9" r="10.8" fill="#bdbdbd"/>
<circle cx="1639.02" cy="940.1" r="9.05" fill="#bdbdbd"/>
<rect x="1632.02" y="938.45" width="14" height="3.3" fill="#fff"/>
<rect x="1637.37" y="933.10" width="3.3" height="14" fill="#fff"/>
<rect x="1630.12" y="952.80" width="17.8" height="92.4" rx="8.9" fill="#bdbdbd"/>
<circle cx="1639.02" cy="998.9" r="35.8" fill="#bdbdbd"/>
<circle cx="1639.02" cy="998.9" r="31.4" fill="none" stroke="#f9a391" stroke-width="5.5" stroke-dasharray="1.900 1.9 6.631 1.9" stroke-dashoffset="0.950"/>
<circle cx="1639.02" cy="998.9" r="26.1" fill="#f9a391"/>
<circle cx="1639.02" cy="998.9" r="18.65" fill="#fff" stroke="#bdbdbd" stroke-width="1.8"/>
<circle cx="1639.02" cy="998.9" r="10.8" fill="#bdbdbd"/>
<circle cx="1723.09" cy="940.1" r="9.05" fill="#bdbdbd"/>
<rect x="1716.09" y="938.45" width="14" height="3.3" fill="#fff"/>
<rect x="1714.19" y="952.80" width="17.8" height="92.4" rx="8.9" fill="#bdbdbd"/>
<circle cx="1723.09" cy="998.9" r="35.8" fill="#bdbdbd"/>
<circle cx="1723.09" cy="998.9" r="31.4" fill="none" stroke="#fff" stroke-width="5.5" stroke-dasharray="1.900 1.9 6.631 1.9" stroke-dashoffset="0.950"/>
<circle cx="1723.09" cy="998.9" r="26.1" fill="#fff"/>
<circle cx="1723.09" cy="998.9" r="18.65" fill="#fff" stroke="#bdbdbd" stroke-width="1.8"/>
<circle cx="1723.09" cy="998.9" r="10.8" fill="#bdbdbd"/>
<circle cx="1429.20" cy="787.3" r="9.05" fill="#bdbdbd"/>
<rect x="1422.20" y="785.65" width="14" height="3.3" fill="#fff"/>
<rect x="1427.55" y="780.30" width="3.3" height="14" fill="#fff"/>
<rect x="1420.30" y="799.20" width="17.8" height="92.4" rx="8.9" fill="#bdbdbd"/>
<circle cx="1429.20" cy="845.3" r="35.8" fill="#bdbdbd"/>
<circle cx="1429.20" cy="845.3" r="31.4" fill="none" stroke="#f9a391" stroke-width="5.5" stroke-dasharray="1.900 1.9 6.631 1.9" stroke-dashoffset="0.950"/>
<circle cx="1429.20" cy="845.3" r="26.1" fill="#f9a391"/>
<circle cx="1429.20" cy="845.3" r="18.65" fill="#fff" stroke="#bdbdbd" stroke-width="1.8"/>
<circle cx="1429.20" cy="845.3" r="10.8" fill="#bdbdbd"/>
<circle cx="1513.20" cy="787.3" r="9.05" fill="#bdbdbd"/>
<rect x="1506.20" y="785.65" width="14" height="3.3" fill="#fff"/>
<rect x="1504.30" y="799.20" width="17.8" height="92.4" rx="8.9" fill="#bdbdbd"/>
<circle cx="1513.20" cy="845.3" r="35.8" fill="#bdbdbd"/>
<circle cx="1513.20" cy="845.3" r="31.4" fill="none" stroke="#fff" stroke-width="5.5" stroke-dasharray="1.900 1.9 6.631 1.9" stroke-dashoffset="0.950"/>
<circle cx="1513.20" cy="845.3" r="26.1" fill="#fff"/>
<circle cx="1513.20" cy="845.3" r="18.65" fill="#fff" stroke="#bdbdbd" stroke-width="1.8"/>
<circle cx="1513.20" cy="845.3" r="10.8" fill="#bdbdbd"/>
<circle cx="1597.20" cy="787.3" r="9.05" fill="#bdbdbd"/>
<rect x="1590.20" y="785.65" width="14" height="3.3" fill="#fff"/>
<rect x="1595.55" y="780.30" width="3.3" height="14" fill="#fff"/>
<rect x="1588.30" y="799.20" width="17.8" height="92.4" rx="8.9" fill="#bdbdbd"/>
<circle cx="1597.20" cy="845.3" r="35.8" fill="#bdbdbd"/>
<circle cx="1597.20" cy="845.3" r="31.4" fill="none" stroke="#f9a391" stroke-width="5.5" stroke-dasharray="1.900 1.9 6.631 1.9" stroke-dashoffset="0.950"/>
<circle cx="1597.20" cy="845.3" r="26.1" fill="#f9a391"/>
<circle cx="1597.20" cy="845.3" r="18.65" fill="#fff" stroke="#bdbdbd" stroke-width="1.8"/>
<circle cx="1597.20" cy="845.3" r="10.8" fill="#bdbdbd"/>
<circle cx="1681.20" cy="787.3" r="9.05" fill="#bdbdbd"/>
<rect x="1674.20" y="785.65" width="14" height="3.3" fill="#fff"/>
<rect x="1672.30" y="799.20" width="17.8" height="92.4" rx="8.9" fill="#bdbdbd"/>
<circle cx="1681.20" cy="845.3" r="35.8" fill="#bdbdbd"/>
<circle cx="1681.20" cy="845.3" r="31.4" fill="none" stroke="#fff" stroke-width="5.5" stroke-dasharray="1.900 1.9 6.631 1.9" stroke-dashoffset="0.950"/>
<circle cx="1681.20" cy="845.3" r="26.1" fill="#fff"/>
<circle cx="1681.20" cy="845.3" r="18.65" fill="#fff" stroke="#bdbdbd" stroke-width="1.8"/>
<circle cx="1681.20" cy="845.3" r="10.8" fill="#bdbdbd"/>
<rect x="324.00" y="1070" width="25.2" height="27" fill="#fff"/>
<rect x="330.30" y="1044.70" width="12.6" height="180" fill="#000"/>
<rect x="492.13" y="1070" width="25.2" height="27" fill="#fff"/>
<rect x="498.43" y="1044.70" width="12.6" height="180" fill="#000"/>
<rect x="660.26" y="1070" width="25.2" height="27" fill="#fff"/>
<rect x="666.56" y="1044.70" width="12.6" height="180" fill="#000"/>
<rect x="828.39" y="1070" width="25.2" height="27" fill="#fff"/>
<rect x="834.69" y="1044.70" width="12.6" height="180" fill="#000"/>
<rect x="996.52" y="1070" width="25.2" height="27" fill="#fff"/>
<rect x="1002.82" y="1044.70" width="12.6" height="180" fill="#000"/>
<rect x="1164.65" y="1070" width="25.2" height="27" fill="#fff"/>
<rect x="1170.95" y="1044.70" width="12.6" height="180" fill="#000"/>
<rect x="1332.78" y="1070" width="25.2" height="27" fill="#fff"/>
<rect x="1339.08" y="1044.70" width="12.6" height="180" fill="#000"/>
<path d="M1138,856.3 H1300.4 a17 17 0 0 0 17,-17 V621.1 a17 17 0 0 0 -17,-17 H1226" fill="none" stroke="#fff" stroke-width="25" />
<path d="M1138,794.3 H1251.9 a17 17 0 0 0 17,-17 V693.5 a17 17 0 0 0 -17,-17 H1226" fill="none" stroke="#fff" stroke-width="25" />
<path d="M1138,856.3 H1300.4 a17 17 0 0 0 17,-17 V621.1 a17 17 0 0 0 -17,-17 H1226" fill="none" stroke="#000" stroke-width="12.6" />
<path d="M1138,794.3 H1251.9 a17 17 0 0 0 17,-17 V693.5 a17 17 0 0 0 -17,-17 H1226" fill="none" stroke="#000" stroke-width="12.6" />
<rect x="981" y="597.9" width="102.9" height="12.3" fill="#000"/>
<rect x="981" y="670.3" width="101.9" height="12.3" fill="#000"/>
<path d="M1089.95,596.50 L1133.40,588.60 L1133.40,619.40 L1089.95,611.50 Z M1133.40,581.20 h61.7 v45.6 h-61.7 Z M1195.10,586.60 h11 v34.8 h-11 Z M1206.10,599.30 h18.7 a4.7 4.7 0 0 1 0,9.4 h-18.7 Z" fill="#fff" stroke="#fff" stroke-width="9.8" stroke-linejoin="round"/>
<path d="M1206.10,599.30 h18.7 a4.7 4.7 0 0 1 0,9.4 h-18.7 Z" fill="#fff" stroke="#000" stroke-width="3.6"/>
<path d="M1195.10,586.60 h11 v34.8 h-11 Z" fill="#fff" stroke="#000" stroke-width="3.6"/>
<path d="M1089.95,596.50 L1133.40,588.60 L1133.40,619.40 L1089.95,611.50 Z" fill="#fff" stroke="#000" stroke-width="3.6" stroke-linejoin="miter"/>
<path d="M1133.40,581.20 h61.7 v45.6 h-61.7 Z" fill="#fff" stroke="#000" stroke-width="3.6"/>
<path d="M1181.80,581.00 v46 M1187.20,581.00 v46" fill="none" stroke="#000" stroke-width="2.3"/>
<path d="M1089.05,668.90 L1132.50,661.00 L1132.50,691.80 L1089.05,683.90 Z M1132.50,653.60 h61.7 v45.6 h-61.7 Z M1194.20,659.00 h11 v34.8 h-11 Z M1205.20,671.70 h18.7 a4.7 4.7 0 0 1 0,9.4 h-18.7 Z" fill="#fff" stroke="#fff" stroke-width="9.8" stroke-linejoin="round"/>
<path d="M1205.20,671.70 h18.7 a4.7 4.7 0 0 1 0,9.4 h-18.7 Z" fill="#fff" stroke="#000" stroke-width="3.6"/>
<path d="M1194.20,659.00 h11 v34.8 h-11 Z" fill="#fff" stroke="#000" stroke-width="3.6"/>
<path d="M1089.05,668.90 L1132.50,661.00 L1132.50,691.80 L1089.05,683.90 Z" fill="#fff" stroke="#000" stroke-width="3.6" stroke-linejoin="miter"/>
<path d="M1132.50,653.60 h61.7 v45.6 h-61.7 Z" fill="#fff" stroke="#000" stroke-width="3.6"/>
<path d="M1180.90,653.40 v46 M1186.30,653.40 v46" fill="none" stroke="#000" stroke-width="2.3"/>
<path d="M99.2,1228 V885.05 a27 27 0 0 1 27,-27 H655" fill="none" stroke="#fff" stroke-width="24.6"/>
<path d="M655.10,849.15 L696.10,841.25 L696.10,872.05 L655.10,864.15 Z M696.10,833.85 h61.7 v45.6 h-61.7 Z M757.80,839.25 h11 v34.8 h-11 Z M768.80,851.95 h18.7 a4.7 4.7 0 0 1 0,9.4 h-18.7 Z" fill="#fff" stroke="#fff" stroke-width="12.8" stroke-linejoin="round"/>
<path d="M768.80,851.95 h18.7 a4.7 4.7 0 0 1 0,9.4 h-18.7 Z" fill="#fff" stroke="#000" stroke-width="3.6"/>
<path d="M757.80,839.25 h11 v34.8 h-11 Z" fill="#fff" stroke="#000" stroke-width="3.6"/>
<path d="M655.10,849.15 L696.10,841.25 L696.10,872.05 L655.10,864.15 Z" fill="#fff" stroke="#000" stroke-width="3.6" stroke-linejoin="miter"/>
<path d="M696.10,833.85 h61.7 v45.6 h-61.7 Z" fill="#fff" stroke="#000" stroke-width="3.6"/>
<path d="M744.50,833.65 v46 M749.90,833.65 v46" fill="none" stroke="#000" stroke-width="2.3"/>
<path d="M99.2,1228 V885.05 a27 27 0 0 1 27,-27 H655" fill="none" stroke="#000" stroke-width="12.8"/>
<path d="M768.80,851.95 h18.7 a4.7 4.7 0 0 1 0,9.4 h-18.7 Z" fill="#fff" stroke="#000" stroke-width="3.6"/>
<path d="M757.80,839.25 h11 v34.8 h-11 Z" fill="#fff" stroke="#000" stroke-width="3.6"/>
<path d="M655.10,849.15 L696.10,841.25 L696.10,872.05 L655.10,864.15 Z" fill="#fff" stroke="#000" stroke-width="3.6" stroke-linejoin="miter"/>
<path d="M696.10,833.85 h61.7 v45.6 h-61.7 Z" fill="#fff" stroke="#000" stroke-width="3.6"/>
<path d="M744.50,833.65 v46 M749.90,833.65 v46" fill="none" stroke="#000" stroke-width="2.3"/>
<rect x="272.90" y="1222.40" width="124.00" height="199.10" fill="#fff" stroke="#000" stroke-width="5.2"/>
<circle cx="334.90" cy="1269.30" r="21.7" fill="none" stroke="#000" stroke-width="2.4"/>
<circle cx="334.90" cy="1269.30" r="10.9" fill="none" stroke="#000" stroke-width="2.4"/>
<path d="M316.80,1318.50 L354.40,1318.50 C361.90,1318.50 377.00,1333.60 377.00,1341.10 L377.00,1378.70 C377.00,1386.20 361.90,1401.30 354.40,1401.30 L316.80,1401.30 C309.30,1401.30 294.20,1386.20 294.20,1378.70 L294.20,1341.10 C294.20,1333.60 309.30,1318.50 316.80,1318.50 Z" fill="none" stroke="#000" stroke-width="2.5"/>
<circle cx="335.60" cy="1359.90" r="34.8" fill="none" stroke="#000" stroke-width="2.5"/>
<circle cx="335.60" cy="1359.90" r="11.8" fill="none" stroke="#000" stroke-width="2.4"/>
<rect x="441.25" y="1222.48" width="124.00" height="199.10" fill="#fff" stroke="#000" stroke-width="5.2"/>
<circle cx="503.25" cy="1269.38" r="21.7" fill="none" stroke="#000" stroke-width="2.4"/>
<circle cx="503.25" cy="1269.38" r="10.9" fill="none" stroke="#000" stroke-width="2.4"/>
<path d="M485.15,1318.58 L522.75,1318.58 C530.25,1318.58 545.35,1333.68 545.35,1341.18 L545.35,1378.78 C545.35,1386.28 530.25,1401.38 522.75,1401.38 L485.15,1401.38 C477.65,1401.38 462.55,1386.28 462.55,1378.78 L462.55,1341.18 C462.55,1333.68 477.65,1318.58 485.15,1318.58 Z" fill="none" stroke="#000" stroke-width="2.5"/>
<circle cx="503.95" cy="1359.98" r="34.8" fill="none" stroke="#000" stroke-width="2.5"/>
<circle cx="503.95" cy="1359.98" r="11.8" fill="none" stroke="#000" stroke-width="2.4"/>
<rect x="609.60" y="1222.56" width="124.00" height="199.10" fill="#fff" stroke="#000" stroke-width="5.2"/>
<circle cx="671.60" cy="1269.46" r="21.7" fill="none" stroke="#000" stroke-width="2.4"/>
<circle cx="671.60" cy="1269.46" r="10.9" fill="none" stroke="#000" stroke-width="2.4"/>
<path d="M653.50,1318.66 L691.10,1318.66 C698.60,1318.66 713.70,1333.76 713.70,1341.26 L713.70,1378.86 C713.70,1386.36 698.60,1401.46 691.10,1401.46 L653.50,1401.46 C646.00,1401.46 630.90,1386.36 630.90,1378.86 L630.90,1341.26 C630.90,1333.76 646.00,1318.66 653.50,1318.66 Z" fill="none" stroke="#000" stroke-width="2.5"/>
<circle cx="672.30" cy="1360.06" r="34.8" fill="none" stroke="#000" stroke-width="2.5"/>
<circle cx="672.30" cy="1360.06" r="11.8" fill="none" stroke="#000" stroke-width="2.4"/>
<rect x="777.95" y="1222.64" width="124.00" height="199.10" fill="#fff" stroke="#000" stroke-width="5.2"/>
<circle cx="839.95" cy="1269.54" r="21.7" fill="none" stroke="#000" stroke-width="2.4"/>
<circle cx="839.95" cy="1269.54" r="10.9" fill="none" stroke="#000" stroke-width="2.4"/>
<path d="M821.85,1318.74 L859.45,1318.74 C866.95,1318.74 882.05,1333.84 882.05,1341.34 L882.05,1378.94 C882.05,1386.44 866.95,1401.54 859.45,1401.54 L821.85,1401.54 C814.35,1401.54 799.25,1386.44 799.25,1378.94 L799.25,1341.34 C799.25,1333.84 814.35,1318.74 821.85,1318.74 Z" fill="none" stroke="#000" stroke-width="2.5"/>
<circle cx="840.65" cy="1360.14" r="34.8" fill="none" stroke="#000" stroke-width="2.5"/>
<circle cx="840.65" cy="1360.14" r="11.8" fill="none" stroke="#000" stroke-width="2.4"/>
<rect x="946.30" y="1222.72" width="124.00" height="199.10" fill="#fff" stroke="#000" stroke-width="5.2"/>
<circle cx="1008.30" cy="1269.62" r="21.7" fill="none" stroke="#000" stroke-width="2.4"/>
<circle cx="1008.30" cy="1269.62" r="10.9" fill="none" stroke="#000" stroke-width="2.4"/>
<path d="M990.20,1318.82 L1027.80,1318.82 C1035.30,1318.82 1050.40,1333.92 1050.40,1341.42 L1050.40,1379.02 C1050.40,1386.52 1035.30,1401.62 1027.80,1401.62 L990.20,1401.62 C982.70,1401.62 967.60,1386.52 967.60,1379.02 L967.60,1341.42 C967.60,1333.92 982.70,1318.82 990.20,1318.82 Z" fill="none" stroke="#000" stroke-width="2.5"/>
<circle cx="1009.00" cy="1360.22" r="34.8" fill="none" stroke="#000" stroke-width="2.5"/>
<circle cx="1009.00" cy="1360.22" r="11.8" fill="none" stroke="#000" stroke-width="2.4"/>
<rect x="1114.65" y="1222.80" width="124.00" height="199.10" fill="#fff" stroke="#000" stroke-width="5.2"/>
<circle cx="1176.65" cy="1269.70" r="21.7" fill="none" stroke="#000" stroke-width="2.4"/>
<circle cx="1176.65" cy="1269.70" r="10.9" fill="none" stroke="#000" stroke-width="2.4"/>
<path d="M1158.55,1318.90 L1196.15,1318.90 C1203.65,1318.90 1218.75,1334.00 1218.75,1341.50 L1218.75,1379.10 C1218.75,1386.60 1203.65,1401.70 1196.15,1401.70 L1158.55,1401.70 C1151.05,1401.70 1135.95,1386.60 1135.95,1379.10 L1135.95,1341.50 C1135.95,1334.00 1151.05,1318.90 1158.55,1318.90 Z" fill="none" stroke="#000" stroke-width="2.5"/>
<circle cx="1177.35" cy="1360.30" r="34.8" fill="none" stroke="#000" stroke-width="2.5"/>
<circle cx="1177.35" cy="1360.30" r="11.8" fill="none" stroke="#000" stroke-width="2.4"/>
<rect x="1283.00" y="1222.88" width="124.00" height="199.10" fill="#fff" stroke="#000" stroke-width="5.2"/>
<circle cx="1345.00" cy="1269.78" r="21.7" fill="none" stroke="#000" stroke-width="2.4"/>
<circle cx="1345.00" cy="1269.78" r="10.9" fill="none" stroke="#000" stroke-width="2.4"/>
<path d="M1326.90,1318.98 L1364.50,1318.98 C1372.00,1318.98 1387.10,1334.08 1387.10,1341.58 L1387.10,1379.18 C1387.10,1386.68 1372.00,1401.78 1364.50,1401.78 L1326.90,1401.78 C1319.40,1401.78 1304.30,1386.68 1304.30,1379.18 L1304.30,1341.58 C1304.30,1334.08 1319.40,1318.98 1326.90,1318.98 Z" fill="none" stroke="#000" stroke-width="2.5"/>
<circle cx="1345.70" cy="1360.38" r="34.8" fill="none" stroke="#000" stroke-width="2.5"/>
<circle cx="1345.70" cy="1360.38" r="11.8" fill="none" stroke="#000" stroke-width="2.4"/>
<path d="M2.6,1273.3 L37.4,1227.3 H157.6 L192,1273.3 V1421.3 H2.6 Z" fill="#fff" stroke="#000" stroke-width="5.2" stroke-linejoin="miter"/>
<path d="M0,1273.6 H194" stroke="#000" stroke-width="5.2" fill="none"/>
<path d="M14,1262.9 H180.5" stroke="#000" stroke-width="2" fill="none"/>
<path d="M5,1280.4 H189.5 M6.6,1280 V1403 M188.2,1280 V1403" stroke="#000" stroke-width="2" fill="none"/>
<path d="M3,1403.4 H191" stroke="#000" stroke-width="3" fill="none"/>
<path d="M3,1409.6 H191" stroke="#000" stroke-width="1.9" fill="none"/>
<path d="M20.5,1408.2 h22.5 l-1.5,4.3 h-19.5 Z M152,1408.2 h22.5 l-1.5,4.3 h-19.5 Z" stroke="#000" stroke-width="1.8" fill="#fff"/>
<text transform="translate(50.29 1510.00) scale(0.9917 1)" font-family="'Liberation Sans', sans-serif" font-weight="bold" font-size="57.31" fill="#000" stroke="#000" stroke-width="1.004" stroke-linejoin="round">SW</text>
<text transform="translate(300.99 1510.00) scale(0.8805 1)" font-family="'Liberation Sans', sans-serif" font-weight="bold" font-size="57.31" fill="#000" stroke="#000" stroke-width="1.064" stroke-linejoin="round">FR</text>
<text transform="translate(473.05 1510.00) scale(0.8907 1)" font-family="'Liberation Sans', sans-serif" font-weight="bold" font-size="57.31" fill="#000" stroke="#000" stroke-width="1.058" stroke-linejoin="round">FL</text>
<text transform="translate(653.59 1510.00) scale(0.9217 1)" font-family="'Liberation Sans', sans-serif" font-weight="bold" font-size="57.31" fill="#000" stroke="#000" stroke-width="1.041" stroke-linejoin="round">C</text>
<text transform="translate(805.23 1510.00) scale(0.9158 1)" font-family="'Liberation Sans', sans-serif" font-weight="bold" font-size="57.31" fill="#000" stroke="#000" stroke-width="1.044" stroke-linejoin="round">SR</text>
<text transform="translate(975.30 1510.00) scale(0.9316 1)" font-family="'Liberation Sans', sans-serif" font-weight="bold" font-size="57.31" fill="#000" stroke="#000" stroke-width="1.035" stroke-linejoin="round">SL</text>
<text transform="translate(1121.93 1510.00) scale(0.9131 1)" font-family="'Liberation Sans', sans-serif" font-weight="bold" font-size="57.31" fill="#000" stroke="#000" stroke-width="1.045" stroke-linejoin="round">SBR</text>
<text transform="translate(1293.02 1510.00) scale(0.9201 1)" font-family="'Liberation Sans', sans-serif" font-weight="bold" font-size="57.31" fill="#000" stroke="#000" stroke-width="1.042" stroke-linejoin="round">SBL</text>
</svg>
</body></html>
